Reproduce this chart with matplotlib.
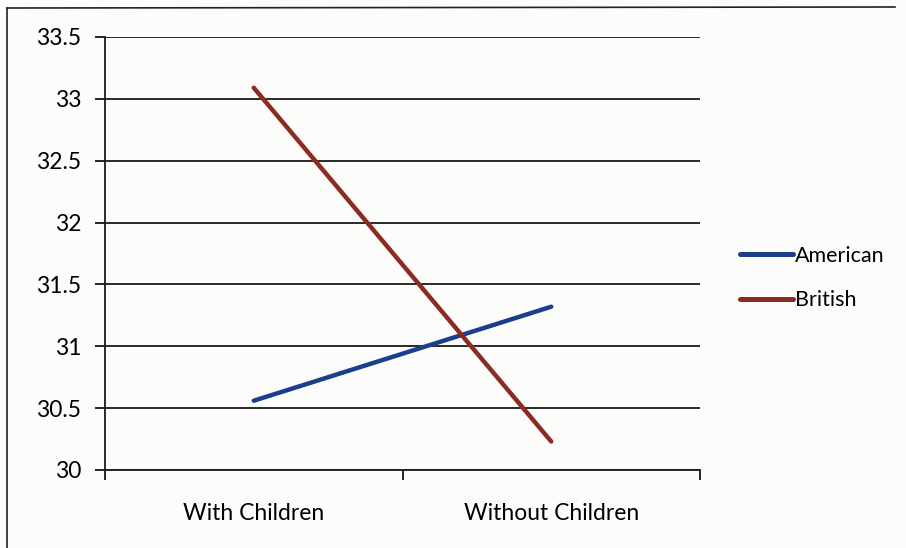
import matplotlib.pyplot as plt
from matplotlib.lines import Line2D

# group means by parenthood status
categories = ['With Children', 'Without Children']
american = [30.56, 31.32]
british = [33.09, 30.23]
yticks = [30, 30.5, 31, 31.5, 32, 32.5, 33, 33.5]
ytick_labels = ['30', '30.5', '31', '31.5', '32', '32.5', '33', '33.5']

plt.rcParams['font.family'] = ['Lato', 'DejaVu Sans']

fig = plt.figure(figsize=(9.06, 5.48), dpi=100)
fig.patch.set_facecolor('#fcfcfa')

# outer chart border
fig.add_artist(Line2D([7 / 906, 7 / 906], [0, 1 - 8 / 548], color='#222222', lw=1.2))
fig.add_artist(Line2D([7 / 906, 895 / 906], [1 - 8 / 548, 1 - 7 / 548], color='#222222', lw=1.2))

ax = fig.add_axes([105 / 906, 1 - 470 / 548, 595 / 906, 433 / 548])
ax.set_facecolor('none')

x = [0.5, 1.5]
ax.plot(x, american, color='#1c3f8c', lw=3.2, solid_capstyle='round', label='American')
ax.plot(x, british, color='#8c2b22', lw=3.2, solid_capstyle='round', label='British')

ax.set_xlim(0, 2)
ax.set_ylim(30, 33.5)
ax.set_yticks(yticks)
ax.set_yticklabels(ytick_labels)
ax.set_xticks([0, 1, 2])
ax.set_xticklabels([])
ax.set_xticks(x, minor=True)
ax.set_xticklabels(categories, minor=True)
ax.tick_params(axis='x', which='minor', length=0, pad=24, labelsize=16.5)
ax.tick_params(axis='x', which='major', length=7, width=1.2, direction='out')
ax.tick_params(axis='y', length=7, width=1.2, labelsize=16.5, pad=10)

ax.grid(axis='y', color='#1a1a1a', lw=1.3)
ax.set_axisbelow(True)
for side in ['top', 'right']:
    ax.spines[side].set_visible(False)
for side in ['left', 'bottom']:
    ax.spines[side].set_color('#1a1a1a')
    ax.spines[side].set_linewidth(1.3)

leg = fig.legend(loc='center left', bbox_to_anchor=(721 / 906, 1 - 278 / 548),
                 frameon=False, fontsize=15.5, handlelength=2.45, handletextpad=0.1,
                 labelspacing=1.15)
for h in leg.get_lines():
    h.set_linewidth(3.6)

fig.savefig('out.png', dpi=100, facecolor=fig.get_facecolor())
